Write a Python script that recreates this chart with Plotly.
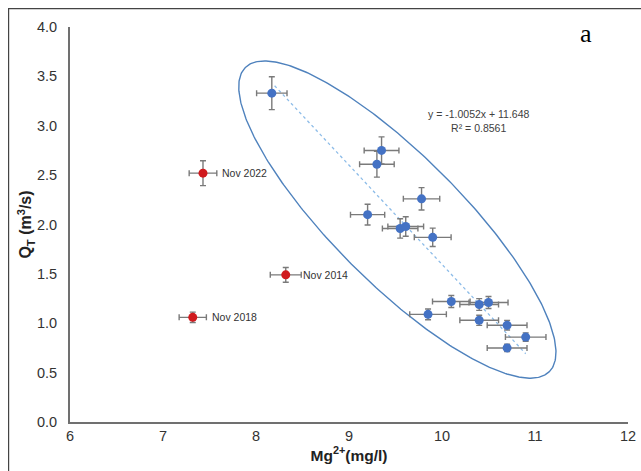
import numpy as np
import plotly.graph_objects as go

# Blue points (inside the ellipse)
blue_mg = [8.17, 9.35, 9.30, 9.78, 9.20, 9.55, 9.61, 9.90, 10.10, 10.40, 10.50, 9.85, 10.40, 10.70, 10.90, 10.70]
blue_q = [3.33, 2.75, 2.61, 2.26, 2.10, 1.96, 1.98, 1.87, 1.22, 1.19, 1.21, 1.09, 1.03, 0.98, 0.86, 0.75]

# Red outliers
red_mg = [7.43, 8.32, 7.32]
red_q = [2.52, 1.49, 1.06]
red_labels = ["Nov 2022", "Nov 2014", "Nov 2018"]
red_label_shift = [17, 15, 17]

# Error bar sizes (percent of value)
err_x_pct = 2
err_y_pct = 5

# Trend line
slope = -1.0052
intercept = 11.648
trend_x = [8.2, 10.9]
eq_text = "y = -1.0052x + 11.648<br>R² = 0.8561"

# Layout geometry (page margin removed, figure fills the window)
W, H = 641, 471
ML, MR, MT, MB = 70, 13, 27, 49
x_range = [6, 12]
y_range = [0, 4]
plot_w = W - ML - MR
plot_h = H - MT - MB
px_per_x = plot_w / (x_range[1] - x_range[0])
px_per_y = plot_h / (y_range[1] - y_range[0])

# Ellipse parameters (center in data units, semi-axes in pixels)
ell_cx, ell_cy = 9.52, 2.05
ell_a_px, ell_b_px, ell_angle_deg = 215, 64, 45

t = np.linspace(0, 2 * np.pi, 400)
ang = np.deg2rad(ell_angle_deg)
ux, uy = np.cos(ang), np.sin(ang)
vx, vy = -np.sin(ang), np.cos(ang)
px = ell_a_px * np.cos(t) * ux + ell_b_px * np.sin(t) * vx
py = ell_a_px * np.cos(t) * uy + ell_b_px * np.sin(t) * vy
ell_x = ell_cx + px / px_per_x
ell_y = ell_cy - py / px_per_y

err_style = dict(type="percent", color="#7a7a7a", thickness=1.4, width=3)

fig = go.Figure()

fig.add_trace(go.Scatter(x=ell_x, y=ell_y, mode="lines",
                         line=dict(color="#4f82bd", width=1.4),
                         hoverinfo="skip", showlegend=False))

trend_y = [slope * x + intercept for x in trend_x]
fig.add_trace(go.Scatter(x=trend_x, y=trend_y, mode="lines",
                         line=dict(color="#8dbce8", width=1.3, dash="dot"),
                         showlegend=False))

fig.add_trace(go.Scatter(x=blue_mg, y=blue_q, mode="markers",
                         marker=dict(color="#4472C4", size=9),
                         error_x=dict(value=err_x_pct, **err_style),
                         error_y=dict(value=err_y_pct, **err_style),
                         showlegend=False))

fig.add_trace(go.Scatter(x=red_mg, y=red_q, mode="markers",
                         marker=dict(color="#D01A1E", size=9),
                         error_x=dict(value=err_x_pct, **err_style),
                         error_y=dict(value=err_y_pct, **err_style),
                         showlegend=False))

for xv, yv, lab, sh in zip(red_mg, red_q, red_labels, red_label_shift):
    fig.add_annotation(x=xv, y=yv, text=lab, showarrow=False,
                       xanchor="left", yanchor="middle", xshift=sh,
                       font=dict(family="Liberation Sans, Arial", size=10.5, color="#333333"))


def wx(px_):
    return (px_ - ML) / plot_w


def wy(py_):
    return (MT + plot_h - py_) / plot_h


fig.add_annotation(xref="paper", yref="paper", x=wx(479), y=wy(120.5),
                   xanchor="center", yanchor="middle",
                   text=eq_text, showarrow=False, align="center",
                   font=dict(family="Liberation Sans, Arial", size=10.5, color="#404040"))

fig.add_annotation(xref="paper", yref="paper", x=wx(585.5), y=wy(34),
                   xanchor="center", yanchor="middle",
                   text="a", showarrow=False,
                   font=dict(family="Liberation Serif, Times New Roman", size=26, color="#000000"))

# outer frame
fig.add_shape(type="rect", xref="paper", yref="paper",
              x0=wx(8.6), x1=wx(700), y0=wy(520), y1=wy(8.6),
              line=dict(color="#444444", width=1.2))

axis_font = dict(family="Liberation Sans, Arial", size=14.5, color="#333333")
fig.update_layout(
    width=W, height=H,
    margin=dict(l=ML, r=MR, t=MT, b=MB, pad=0, autoexpand=False),
    paper_bgcolor="white", plot_bgcolor="white",
    xaxis=dict(range=x_range, dtick=1, showgrid=False, zeroline=False, automargin=False,
               showline=True, linecolor="#707070", linewidth=2,
               tickfont=axis_font, ticks="",
               title=dict(text="<b>Mg<sup>2+</sup>(mg/l)</b>", standoff=4,
                          font=dict(family="Liberation Sans, Arial", size=15.5, color="#222222"))),
    yaxis=dict(range=y_range, dtick=0.5, tickformat=".1f", showgrid=False, zeroline=False,
               automargin=False,
               showline=True, linecolor="#707070", linewidth=2,
               tickfont=axis_font, ticks="outside", ticklen=8, tickcolor="rgba(0,0,0,0)",
               title=dict(text="<b>Q<sub>T</sub> (m<sup>3</sup>/s)</b>", standoff=1,
                          font=dict(family="Liberation Sans, Arial", size=16, color="#222222"))),
)

fig.write_html("out.html",
               config={"displayModeBar": False},
               post_script="document.body.style.margin='0';document.body.style.overflow='hidden';")
